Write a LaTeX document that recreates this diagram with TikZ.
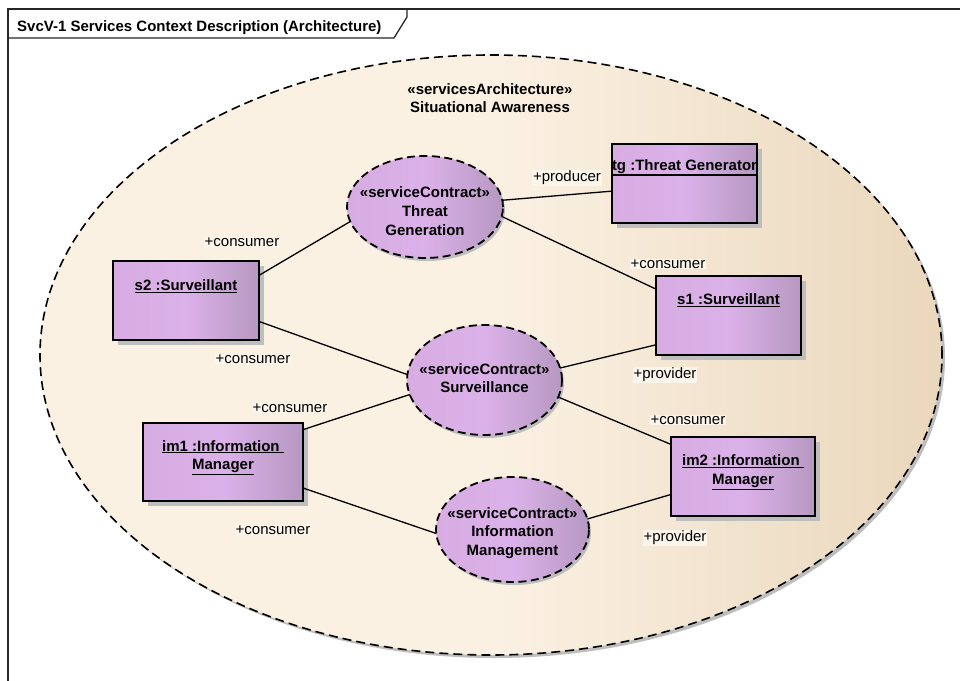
\documentclass[tikz,border=0pt]{standalone}
\usepackage{fontspec}
\setmainfont{Liberation Sans}
\usetikzlibrary{calc,shapes.geometric}
\definecolor{bgA}{RGB}{251,241,227}
\definecolor{bgB}{RGB}{234,215,188}
\definecolor{puA}{RGB}{214,172,226}
\definecolor{puM}{RGB}{219,177,233}
\definecolor{puB}{RGB}{182,152,193}
\definecolor{shadowc}{RGB}{190,190,190}
\definecolor{lblbg}{RGB}{251,245,236}
\tikzset{
  txt/.style={font=\fontsize{15}{18.7}\selectfont},
  btxt/.style={font=\fontsize{15}{18.7}\selectfont\bfseries, align=center, inner sep=0pt},
  frameline/.style={draw=black!85, line width=1.3pt},
  shadowfill/.style={fill=shadowc},
  partbox/.style={shape=rectangle, draw=black, line width=1.6pt, outer sep=0pt, inner sep=0pt,
    left color=puA, right color=puB, middle color=puM},
  contract/.style={shape=ellipse, draw=black, line width=1.8pt, dash pattern=on 8pt off 4.5pt,
    outer sep=0pt, inner sep=0pt,
    left color=puA, right color=puB, middle color=puM},
  bigell/.style={shape=ellipse, draw=black, line width=1.6pt, dash pattern=on 9pt off 5pt,
    outer sep=0pt, inner sep=0pt,
    left color=bgA, right color=bgB, middle color=bgA},
  conn/.style={draw=black, line width=1.3pt},
  role/.style={txt, fill=lblbg, inner sep=1pt},
}
\begin{document}
\begin{tikzpicture}[x=1pt,y=-1pt]
\useasboundingbox (0,0) rectangle (960,680);
\fill[white] (0,0) rectangle (960,680);
\clip (0,0) rectangle (960,680);

% frame
\draw[frameline] (8,700) -- (8,9) -- (980,9);
\draw[frameline] (8,38) -- (394,38) -- (407,17) -- (407,9);
\node[btxt, anchor=base west] (title) at (17,31) {SvcV-1 Services Context Description (Architecture)};

% services architecture
\fill[shadowfill] (494,358) ellipse [x radius=451, y radius=300];
\node[bigell, minimum width=902pt, minimum height=600pt] (sa) at (491,355) {};
\node[btxt] (hdr) at (490,98) {«servicesArchitecture»\\Situational Awareness};

% shadows of contracts and parts
\fill[shadowfill] (427,210) ellipse [x radius=78, y radius=51];
\fill[shadowfill] (486.5,383) ellipse [x radius=77.5, y radius=55];
\fill[shadowfill] (514.5,532.5) ellipse [x radius=76.5, y radius=52.5];
\fill[shadowfill] (616.5,148.5) rectangle (761.5,227.5);
\fill[shadowfill] (117.5,265.5) rectangle (263.5,344.5);
\fill[shadowfill] (660.5,280.5) rectangle (805.5,359.5);
\fill[shadowfill] (147.5,427.5) rectangle (307.5,505.5);
\fill[shadowfill] (675.5,441.5) rectangle (819.5,520.5);

% service contracts
\node[contract, minimum width=156pt, minimum height=102pt] (tgen) at (425,207) {};
\node[btxt] (tgenT) at (425,211) {«serviceContract»\\Threat\\Generation};
\node[contract, minimum width=155pt, minimum height=110pt] (surv) at (484.5,380) {};
\node[btxt] (survT) at (484.5,378) {«serviceContract»\\Surveillance};
\node[contract, minimum width=153pt, minimum height=105pt] (infom) at (512.5,529.5) {};
\node[btxt] (infomT) at (512.5,533) {«serviceContract»\\Information\\Management};

% parts
\node[partbox, minimum width=145pt, minimum height=79pt] (tg) at (684.5,183.5) {};
\draw[line width=1.2pt] ($(tg.north west)+(0,31)$) -- ($(tg.north east)+(0,31)$);
\node[btxt] (tgT) at ($(tg.north)+(0,24)$) {\underline{tg :Threat Generator}};

\node[partbox, minimum width=146pt, minimum height=79pt] (s2) at (186,300.5) {};
\node[btxt] (s2T) at ($(s2.north)+(0,25)$) {\underline{s2 :Surveillant}};

\node[partbox, minimum width=145pt, minimum height=79pt] (s1) at (728.5,315.5) {};
\node[btxt] (s1T) at ($(s1.north)+(0,24.5)$) {\underline{s1 :Surveillant}};

\node[partbox, minimum width=160pt, minimum height=78pt] (im1) at (223,462) {};
\node[btxt] (im1T) at ($(im1.north)+(0,34.5)$) {\underline{im1 :Information }\\\underline{Manager}};

\node[partbox, minimum width=144pt, minimum height=79pt] (im2) at (743,476.5) {};
\node[btxt] (im2T) at ($(im2.north)+(0,35)$) {\underline{im2 :Information }\\\underline{Manager}};

% connectors
\draw[conn] (tgen.5) -- (tg.186);
\draw[conn] (tgen.353) -- (s1.160);
\draw[conn] (s2.19) -- (tgen.191);
\draw[conn] (s2.344) -- (surv.176);
\draw[conn] (s1.202) -- (surv.9);
\draw[conn] (im1.22) -- (surv.191);
\draw[conn] (surv.347) -- (im2.156);
\draw[conn] (im1.342) -- (infom.183);
\draw[conn] (infom.8) -- (im2.194);

% role labels
\node[role] (r1) at (567,178) {+producer};
\node[role] (r2) at (668,264) {+consumer};
\node[role] (r3) at (242,242) {+consumer};
\node[role] (r4) at (253,359) {+consumer};
\node[role] (r5) at (665,375) {+provider};
\node[role] (r6) at (290,408) {+consumer};
\node[role] (r7) at (688,420) {+consumer};
\node[role] (r8) at (273,530) {+consumer};
\node[role] (r9) at (675,538) {+provider};
\end{tikzpicture}
\end{document}
